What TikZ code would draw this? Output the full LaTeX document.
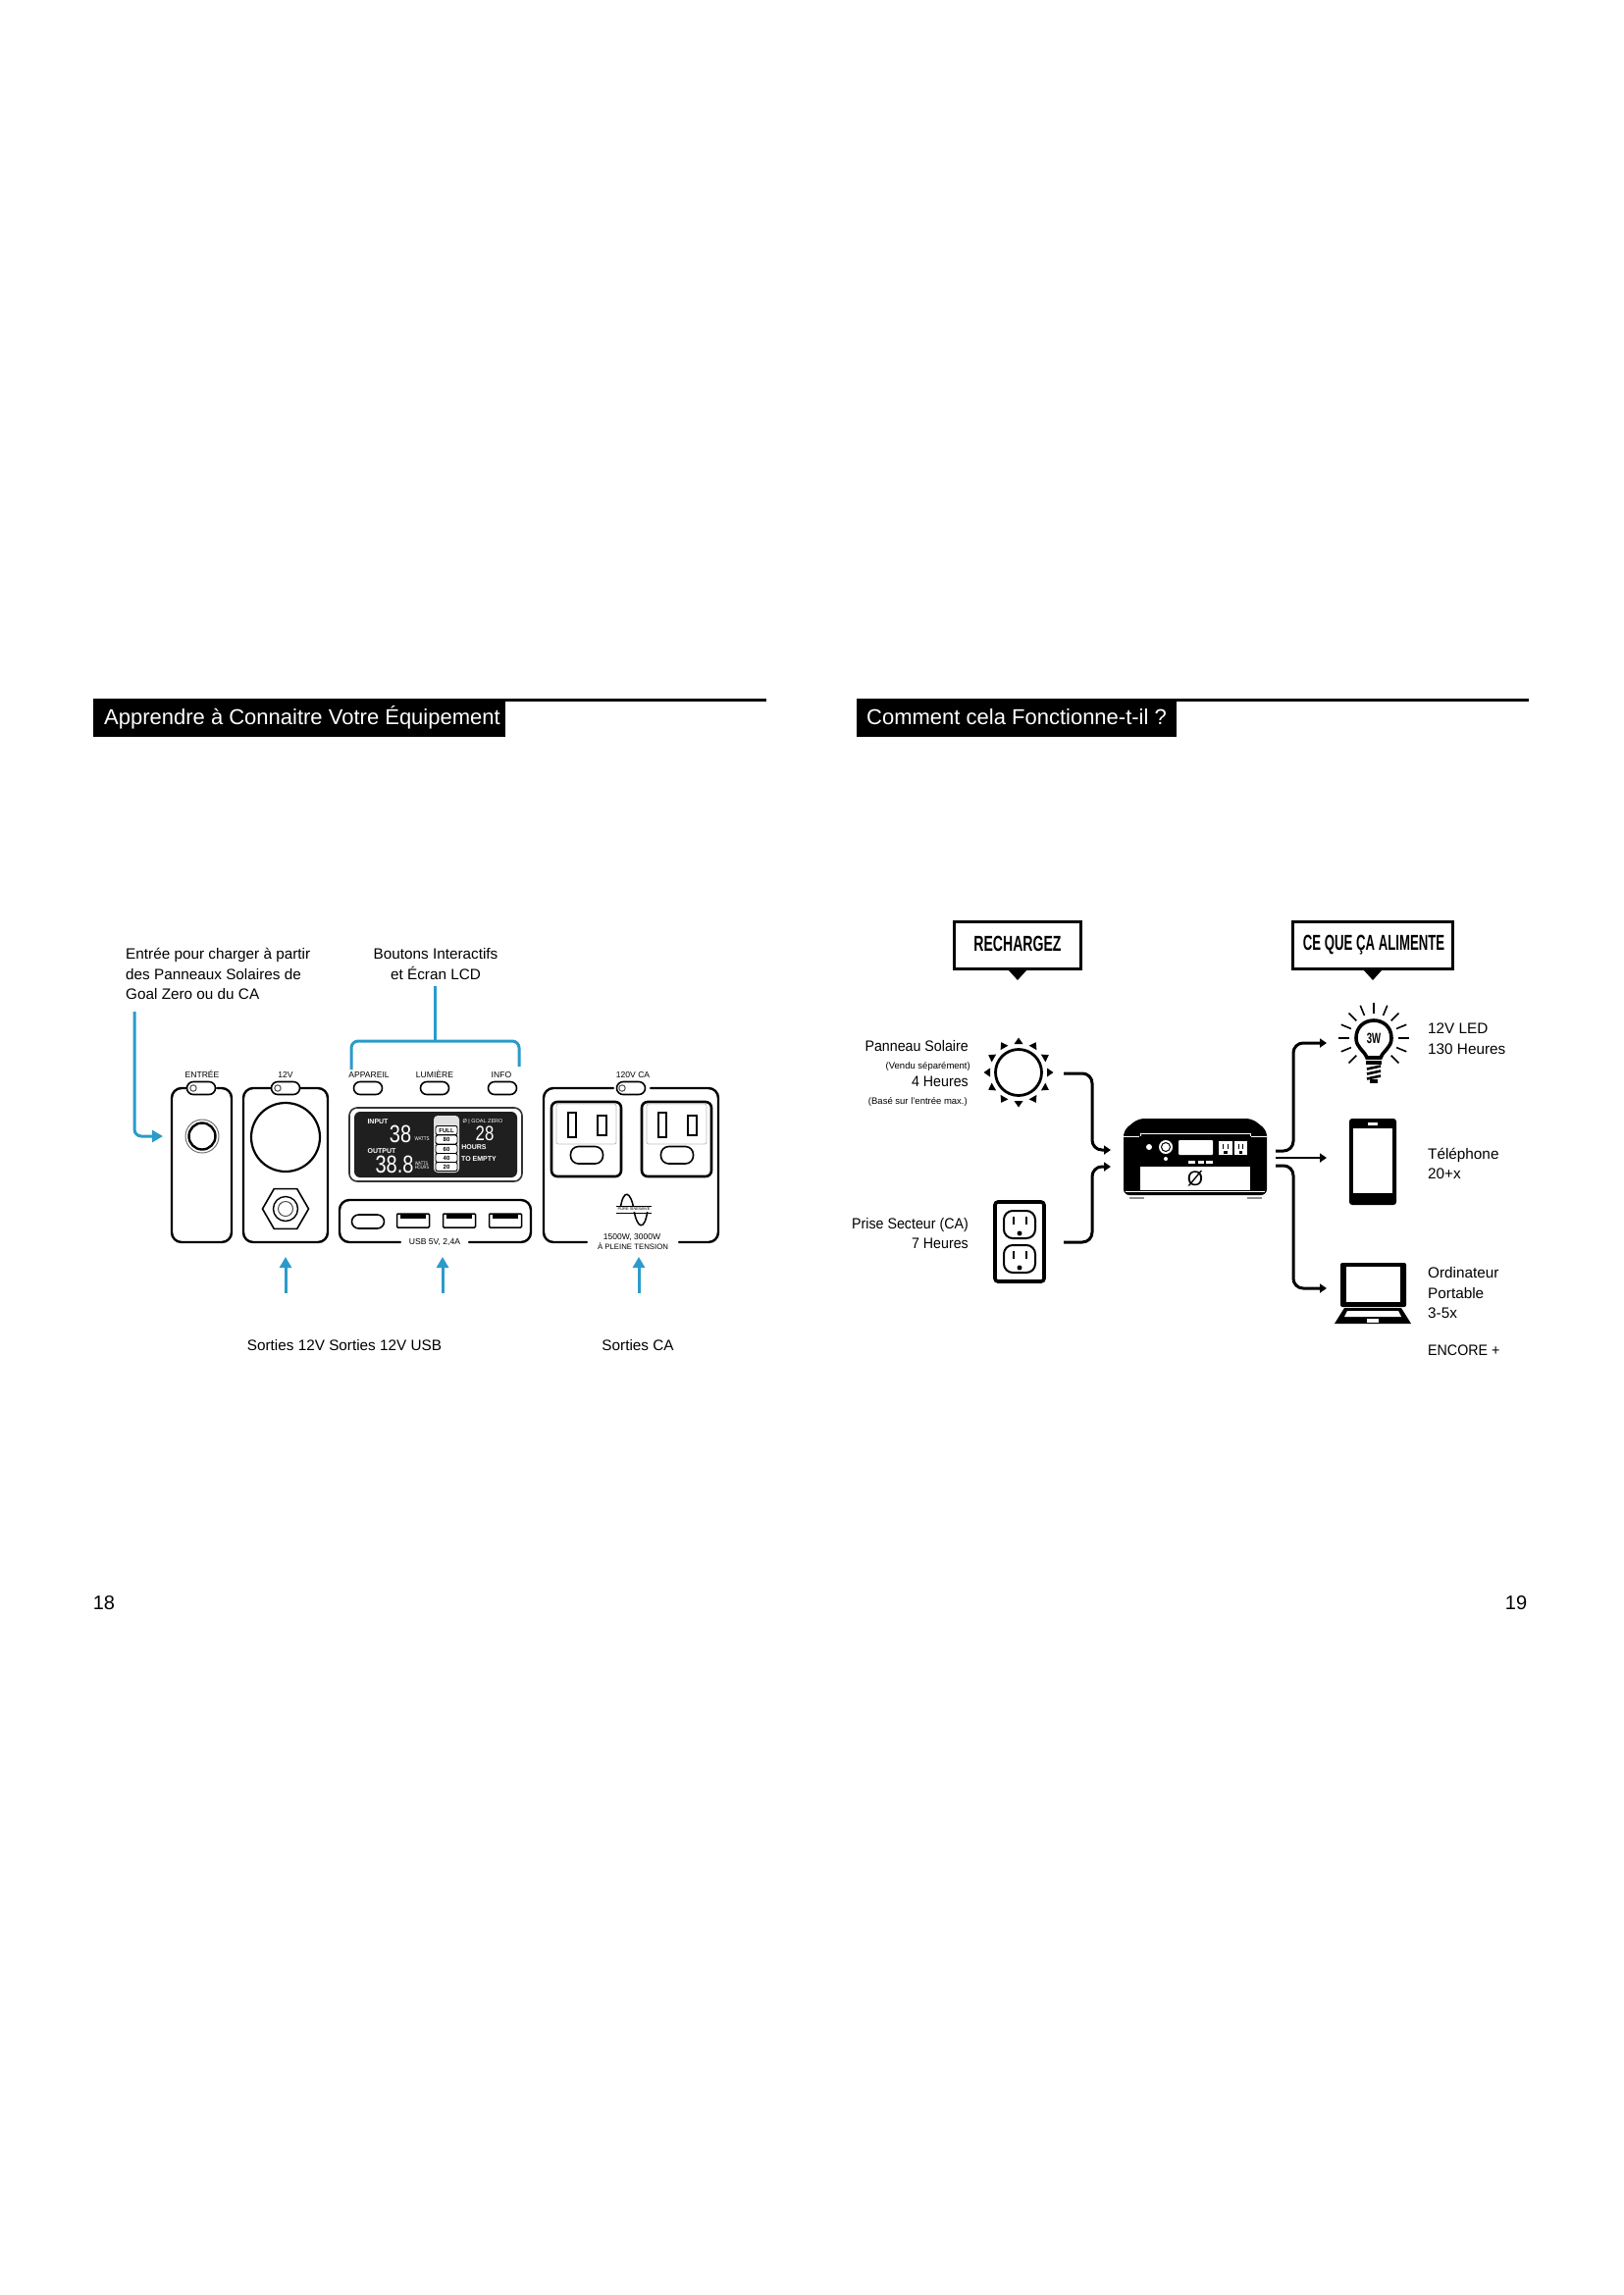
\documentclass[tikz,border=0pt]{standalone}
\usepackage{fontspec}
\setmainfont{Liberation Sans}
\newfontfamily\condb[FakeStretch=0.64]{Liberation Sans Bold}
\newfontfamily\condbb[FakeStretch=0.6]{Liberation Sans Bold}
\newfontfamily\condr[FakeStretch=0.8]{Liberation Sans}
\newfontfamily\condt[FakeStretch=0.93]{Liberation Sans}
\usetikzlibrary{arrows.meta,shapes.geometric}
\definecolor{bluec}{HTML}{2A9BCB}
\newcommand{\fsz}[1]{\fontsize{#1}{#1}\selectfont}
\tikzset{
  x=1pt,y=-1pt,
  txt/.style={inner sep=0pt,font=\fsz{15.3}},
  lft/.style={txt,anchor=base west},
  rgt/.style={txt,anchor=base east,font=\condt\fsz{15.3}},
  ctr/.style={txt,anchor=base},
  tiny/.style={inner sep=0pt,anchor=base,font=\fsz{8.6}},
  smallr/.style={inner sep=0pt,anchor=base east,font=\fsz{9.5}},
  title/.style={inner sep=0pt,anchor=base west,text=white,font=\fsz{22}},
  bluel/.style={draw=bluec,line width=3pt,rounded corners=7pt},
  bluea/.style={draw=bluec,line width=3pt,-{Triangle[width=12pt,length=11pt]}},
  blackl/.style={draw=black,line width=3pt,rounded corners=10pt},
  blacka/.style={blackl,-{Triangle[width=9pt,length=7pt]}},
  panel/.style={draw=black,line width=2.4pt,line cap=round,rounded corners=10pt},
  oval/.style={draw=black,line width=1.6pt,fill=white,rounded corners=6.5pt},
  callout/.style={draw=black,line width=2.6pt,fill=white,minimum height=48pt,inner sep=0pt},
  calltxt/.style={font=\condb\fsz{22}},
  lcdw/.style={inner sep=0pt,text=white,font=\fsz{7}\bfseries},
  seg/.style={inner sep=0pt,text=white,font=\condr\fsz{25}},
}
\begin{document}
\begin{tikzpicture}
\path[use as bounding box,fill=white] (0,0) rectangle (1654,2339);

% ---- Headers
\draw[line width=3pt] (95,713.5) -- (781,713.5);
\draw[line width=3pt] (873,713.5) -- (1558,713.5);
\fill (95,712) rectangle (515,751);
\fill (873,712) rectangle (1199,751);
\node[title] (h1) at (106,738) {Apprendre à Connaitre Votre Équipement};
\node[title] (h2) at (883,738) {Comment cela Fonctionne-t-il ?};
\node[inner sep=0pt,anchor=base,font=\fsz{20}] (p18) at (106,1640) {18};
\node[inner sep=0pt,anchor=base,font=\fsz{20}] (p19) at (1545,1640) {19};

% ---- Left annotations
\node[lft] (t1a) at (128,977) {Entrée pour charger à partir};
\node[lft] (t1b) at (128,998) {des Panneaux Solaires de};
\node[lft] (t1c) at (128,1018) {Goal Zero ou du CA};
\node[ctr] (t2a) at (444,977) {Boutons Interactifs};
\node[ctr] (t2b) at (444,998) {et Écran LCD};
\node[ctr] (t3) at (351,1376) {Sorties 12V Sorties 12V USB};
\node[ctr] (t4) at (650,1376) {Sorties CA};

% ---- small labels
\node[tiny] (lEnt) at (206,1098) {ENTRÉE};
\node[tiny] (l12) at (291,1098) {12V};
\node[tiny] (lApp) at (376,1098) {APPAREIL};
\node[tiny] (lLum) at (443,1098) {LUMIÈRE};
\node[tiny] (lInf) at (511,1098) {INFO};
\node[tiny] (lCa) at (645,1098) {120V CA};

% ---- Panels
\draw[panel] (190,1109) -- (175,1109) -- (175,1266) -- (236,1266) -- (236,1109) -- (221,1109);
\draw[panel] (276,1109) -- (248,1109) -- (248,1266) -- (334,1266) -- (334,1109) -- (306,1109);
\draw[panel] (408,1266) -- (346,1266) -- (346,1223) -- (541,1223) -- (541,1266) -- (478,1266);
\draw[panel] (625,1109) -- (554,1109) -- (554,1266) -- (598,1266);
\draw[panel] (663,1109) -- (732,1109) -- (732,1266) -- (692,1266);

% buttons
\foreach \n/\cx in {bEnt/205,b12/291,bApp/375,bLum/443,bInf/512,bCa/643}{
  \draw[oval] (\cx-14.5,1102.5) rectangle (\cx+14.5,1115.5);
}
\foreach \cx in {197,283,634}{\draw[line width=1pt,draw=black!70] (\cx,1109) circle[radius=3.2pt];}

% entry port
\draw[line width=1pt,draw=black!55] (206,1158) circle[radius=17pt];
\draw[line width=2.4pt] (206,1158) circle[radius=13.5pt];
% 12V
\draw[line width=2.2pt] (291,1159) circle[radius=35pt];
\node[regular polygon,regular polygon sides=6,draw=black,line width=1.6pt,minimum size=47pt,inner sep=0pt] (hex) at (291,1232) {};
\draw[line width=1.4pt] (291,1232) circle[radius=12.5pt];
\draw[line width=1pt,draw=black!70] (291,1232) circle[radius=7.5pt];

% LCD
\draw[line width=1.6pt,draw=black!80,rounded corners=8pt] (356,1129) rectangle (532,1204);
\fill[black!88,rounded corners=6pt] (361,1133) rectangle (527,1200);
\node[lcdw] (iIn) at (385,1143) {INPUT};
\node[seg] (i38) at (408,1156) {38};
\node[lcdw,font=\condr\fsz{5.5}] (iW1) at (430,1161) {WATTS};
\node[lcdw] (iOut) at (389,1173) {OUTPUT};
\node[seg] (i388) at (402,1187) {38.8};
\node[lcdw,font=\condr\fsz{5},align=left] (iW2) at (430,1188) {WATTS\\[-1pt]HOURS};
\fill[black!12,rounded corners=4pt] (442,1137) rectangle (468,1195);
\foreach \y/\s in {1152/FULL,1161.5/80,1171/60,1180/40,1189/20}{
  \draw[black,line width=.9pt,fill=white,rounded corners=2pt] (444,\y-4.5) rectangle (466,\y+4.5);
  \node[inner sep=0pt,font=\fsz{6}\bfseries] at (455,\y) {\s};
}
\node[lcdw,font=\fsz{5.5}] (iGz) at (492,1143) {Ø | GOAL ZERO};
\node[seg,font=\condr\fsz{21}] (i28) at (494,1155) {28};
\node[lcdw] (iHr) at (483,1169) {HOURS};
\node[lcdw] (iTe) at (488,1181) {TO EMPTY};

% USB row
\draw[oval,line width=1.6pt,rounded corners=7pt] (358.5,1238) rectangle (391.5,1252);
\foreach \cx in {421,468,515}{
  \draw[line width=1.5pt,fill=white,rounded corners=1pt] (\cx-16.5,1237) rectangle (\cx+16.5,1251);
  \fill (\cx-13,1238) rectangle (\cx+13,1242);
}
\node[tiny] (lUsb) at (443,1268.5) {USB 5V, 2,4A};

% AC outlets
\foreach \ox in {0,92}{
  \draw[line width=2.6pt,rounded corners=6pt] (562+\ox,1123) rectangle (633+\ox,1199);
  \draw[draw=black!25,line width=.8pt,rounded corners=2pt] (567+\ox,1125) rectangle (628+\ox,1166);
  \draw[line width=1.5pt] (579+\ox,1134) rectangle (587+\ox,1159);
  \draw[line width=1.5pt] (609+\ox,1137) rectangle (618+\ox,1157);
  \draw[line width=1.6pt,rounded corners=8pt] (581.5+\ox,1168.5) rectangle (614.5+\ox,1186);
}
\draw[line width=1.5pt] (632,1233) .. controls (635,1210) and (643,1214) .. (646,1233)
   .. controls (649,1252) and (657,1256) .. (660,1233);
\node[inner sep=0.6pt,fill=white,font=\fsz{4}] (sine) at (646,1232.5) {PURE SINEWAVE};
\draw[line width=.8pt] (628,1229) -- (664,1229) (628,1236) -- (664,1236);
\node[tiny,font=\fsz{8.5}] (w1) at (644,1263) {1500W, 3000W};
\node[tiny,font=\fsz{7.8}] (w2) at (645,1273) {À PLEINE TENSION};

% ---- Blue connectors
\coordinate (bA0) at (137,1031);
\coordinate (bA1) at (166,1158);
\draw[bluel] (bA0) -- (137,1158) -- (156,1158);
\draw[bluea] (155,1158) -- (bA1);
\coordinate (bB0) at (443,1005);
\coordinate (bB1) at (443,1061);
\coordinate (bBl) at (358,1090);
\coordinate (bBr) at (529,1087);
\draw[bluel] (bB0) -- (bB1);
\draw[bluel] (bBl) -- (358,1061) -- (529,1061) -- (bBr);
\foreach \nm/\cx in {uA/291,uB/451,uC/651}{
  \coordinate (\nm0) at (\cx,1318);
  \coordinate (\nm1) at (\cx,1281);
  \draw[bluea] (\nm0) -- (\nm1);
}

% ---- Right diagram callouts
\node[callout,minimum width=129pt] (cR) at (1037,963.5) {};
\node[calltxt] (cRt) at (1037,962) {RECHARGEZ};
\fill (1028,989) -- (1046,989) -- (1037,999) -- cycle;
\node[callout,minimum width=163pt] (cQ) at (1399,963.5) {};
\node[font=\condbb\fsz{22}] (cQt) at (1400,963) {CE QUE ÇA ALIMENTE};
\fill (1390,989) -- (1408,989) -- (1399,999) -- cycle;

% left labels
\node[rgt] (s1) at (987,1071.5) {Panneau Solaire};
\node[smallr] (s2) at (989,1089) {(Vendu séparément)};
\node[rgt] (s3) at (987,1107.5) {4 Heures};
\node[smallr] (s4) at (986,1125) {(Basé sur l'entrée max.)};
\node[rgt] (s5) at (987,1252.5) {Prise Secteur (CA)};
\node[rgt] (s6) at (987,1272.5) {7 Heures};

% sun
\draw[line width=2.8pt] (1038,1093) circle[radius=23.5pt];
\foreach \a in {0,30,...,330}{
  \begin{scope}[shift={(1038,1093)},rotate=\a]
    \fill (29,-4.5) -- (29,4.5) -- (35.5,0) -- cycle;
  \end{scope}
}
% wall outlet
\draw[line width=3.6pt,rounded corners=3pt] (1014,1225) rectangle (1064,1306);
\foreach \cy in {1248,1283}{
  \draw[line width=2pt,rounded corners=9pt] (1023,\cy-14) rectangle (1055,\cy+14);
  \fill (1032,\cy-8) rectangle (1034,\cy);
  \fill (1045,\cy-8) rectangle (1047,\cy);
  \fill (1039,\cy+9) circle[radius=2.5pt];
}

% central unit
\fill[rounded corners=6pt] (1145,1152) -- (1160,1140) -- (1276,1140) -- (1291,1152) -- (1291,1218) -- (1145,1218) -- cycle;
\draw[white,line width=1pt] (1145,1158) -- (1161,1158) (1275,1158) -- (1291,1158);
\draw[white,line width=1pt] (1162,1158) -- (1162,1155) -- (1274,1155) -- (1274,1158);
\fill[white] (1162,1189) rectangle (1274,1213);
\draw[white,line width=.8pt] (1147,1214.5) -- (1289,1214.5);
\fill[black!45] (1151,1220) rectangle (1166,1222);
\fill[black!45] (1271,1220) rectangle (1286,1222);
\fill[white] (1171,1169) circle[radius=3pt];
\fill[white] (1188,1169) circle[radius=7pt];
\draw[black,line width=1pt] (1188,1169) circle[radius=4.5pt];
\fill[white] (1188,1181) circle[radius=2pt];
\fill[white,rounded corners=1pt] (1201,1162) rectangle (1236,1177);
\foreach \ox in {1242,1257.5}{
  \fill[white] (\ox,1163) rectangle (\ox+13.5,1177);
  \fill (\ox+4,1166) rectangle (\ox+5.3,1171);
  \fill (\ox+8.5,1166) rectangle (\ox+9.8,1171);
  \fill (\ox+5,1173) rectangle (\ox+8.5,1175.5);
}
\foreach \ox in {1211,1220.5,1229}{\fill[white] (\ox,1183) rectangle (\ox+6.5,1185.5);}
\node[inner sep=0pt,font=\fsz{21}] (logo) at (1218,1201) {Ø};

% black connectors
\coordinate (inA) at (1084,1094);
\coordinate (inAe) at (1132,1172);
\coordinate (inB) at (1084,1266);
\coordinate (inBe) at (1132,1189);
\draw[blacka] (inA) -- (1113,1094) -- (1113,1172) -- (inAe);
\draw[blacka] (inB) -- (1113,1266) -- (1113,1189) -- (inBe);
\coordinate (outA) at (1300,1173);
\coordinate (outAe) at (1352,1063);
\coordinate (outB) at (1300,1180);
\coordinate (outBe) at (1352,1180);
\coordinate (outC) at (1300,1188);
\coordinate (outCe) at (1352,1313);
\draw[blacka] (outA) -- (1318,1173) -- (1318,1063) -- (outAe);
\draw[blacka,line width=2.2pt] (outB) -- (outBe);
\draw[blacka] (outC) -- (1318,1188) -- (1318,1313) -- (outCe);

% bulb
\foreach \a in {-45,-22.5,0,22.5,45,67.5,90,112.5,135,157.5,180,202.5,225}{
  \begin{scope}[shift={(1400,1058)},rotate=\a]
    \draw[line width=1.6pt] (25,0) -- (36,0);
  \end{scope}
}
\draw[line width=3.6pt,fill=white] (1393,1078) .. controls (1390,1070) and (1382,1068) .. (1382,1058)
  .. controls (1382,1034) and (1418,1034) .. (1418,1058)
  .. controls (1418,1068) and (1410,1070) .. (1407,1078) -- cycle;
\node[inner sep=0pt,font=\condb\fsz{15}] (w3) at (1400,1058) {3W};
\fill (1392,1081) rectangle (1408,1085);
\foreach \y in {1088,1093,1098}{\draw[line width=2.6pt] (1393,\y+1.5) -- (1407,\y-1.5);}
\fill (1396,1100) rectangle (1404,1104);

% phone
\fill[rounded corners=3pt] (1375,1140) rectangle (1423,1228);
\fill[white] (1379,1150) rectangle (1419,1216);
\fill[white] (1394,1144) rectangle (1404,1147);

% laptop
\fill[rounded corners=2pt] (1366,1287) rectangle (1433,1332);
\fill[white] (1372,1291) rectangle (1427,1327);
\fill (1370,1333) -- (1428,1333) -- (1438,1349) -- (1360,1349) -- cycle;
\fill[white] (1373,1336) -- (1425,1336) -- (1428,1342) -- (1370,1342) -- cycle;
\fill[white] (1393,1343.5) rectangle (1405,1348);

% right labels
\node[lft] (r1) at (1455,1053.5) {12V LED};
\node[lft] (r2) at (1455,1074) {130 Heures};
\node[lft] (r3) at (1455,1181.5) {Téléphone};
\node[lft] (r4) at (1455,1201.5) {20+x};
\node[lft] (r5) at (1455,1302.5) {Ordinateur};
\node[lft] (r6) at (1455,1323) {Portable};
\node[lft] (r7) at (1455,1343) {3-5x};
\node[lft,font=\condt\fsz{15.3}] (r8) at (1455,1381.5) {ENCORE +};
\end{tikzpicture}
\end{document}
